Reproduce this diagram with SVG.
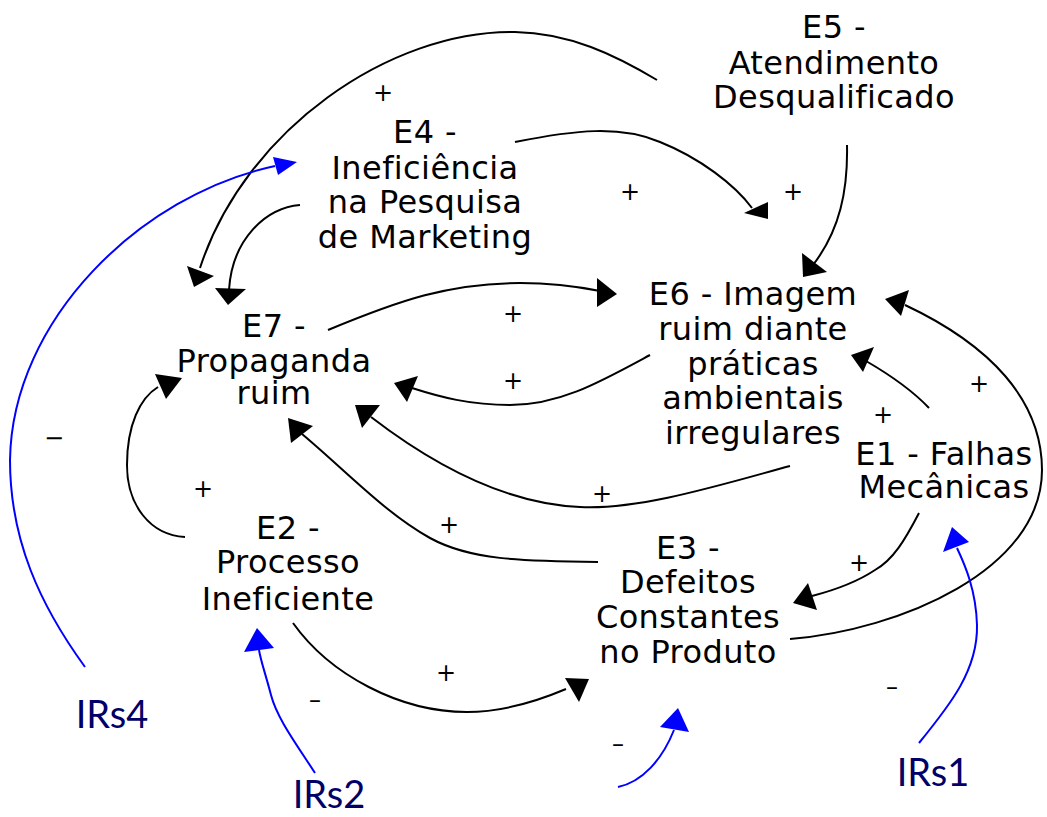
<svg xmlns="http://www.w3.org/2000/svg" width="1047" height="817" viewBox="0 0 1047 817">
<style>
.n{font-family:"DejaVu Sans","Liberation Sans",sans-serif;font-size:32px;letter-spacing:0.4px;fill:#000;text-anchor:middle}
.ir{font-family:Lato,"Liberation Sans",sans-serif;font-size:38px;fill:#000066;text-anchor:middle}
.s{font-family:"DejaVu Sans",sans-serif;font-size:24px;fill:#000;text-anchor:middle}
.k{fill:none;stroke:#000;stroke-width:2}
.b{fill:none;stroke:#0000ff;stroke-width:2}
.ah{fill:#000}
.bh{fill:#0000ff}
</style>
<rect width="1047" height="817" fill="#fff"/>
<g id="connectors">
<path class="k" d="M657,80 C615,55 570,33 515,32 C390,30 245,130 200,268"/>
<polygon class="ah" points="187,266 214,276 194,287"/>
<path class="k" d="M515,142 C575,130 620,125 660,142 C700,158 735,185 752,208"/>
<polygon class="ah" points="744,213 768,202 768,219"/>
<path class="k" d="M847,145 C848,190 840,230 813,265"/>
<polygon class="ah" points="802,253 827,272 803,277"/>
<path class="k" d="M300,205 C265,208 232,240 229,290"/>
<polygon class="ah" points="215,288 246,289 228,305"/>
<path class="k" d="M328,330 C400,300 450,283 520,283 C560,283 585,288 600,291"/>
<polygon class="ah" points="597,278 617,294 597,307"/>
<path class="k" d="M650,355 C600,382 560,405 510,405 C470,405 440,397 412,388"/>
<polygon class="ah" points="394,383 418,376 407,402"/>
<path class="k" d="M929,408 C910,388 885,372 866,361"/>
<polygon class="ah" points="851,355 874,347 863,372"/>
<path class="k" d="M790,639 C900,630 1042,570 1042,470 C1042,400 990,345 905,305"/>
<polygon class="ah" points="885,299 909,290 901,316"/>
<path class="k" d="M790,466 C720,485 640,510 580,507 C510,504 440,470 371,417"/>
<polygon class="ah" points="355,405 380,405 362,428"/>
<path class="k" d="M598,562 C520,561 470,560 430,538 C385,513 345,470 302,434"/>
<polygon class="ah" points="288,418 313,426 291,443"/>
<path class="k" d="M185,537 C150,535 127,505 127,465 C127,425 140,398 158,387"/>
<polygon class="ah" points="155,374 182,378 166,399"/>
<path class="k" d="M293,623 C330,675 400,712 467,712 C505,712 540,700 566,689"/>
<polygon class="ah" points="565,678 589,679 579,702"/>
<path class="k" d="M919,513 C905,540 893,560 875,570 C860,580 835,590 812,596"/>
<polygon class="ah" points="793,603 808,583 817,610"/>
<path class="b" d="M85,667 C40,605 10,540 10,460 C12,320 140,195 275,166"/>
<polygon class="bh" points="273,157 297,162 278,175"/>
<path class="b" d="M315,773 C295,742 277,718 271,695 C265,672 261,662 259,650"/>
<polygon class="bh" points="257,628 274,648 244,652"/>
<path class="b" d="M618,787 C642,782 662,760 674,730"/>
<polygon class="bh" points="678,708 689,732 660,727"/>
<path class="b" d="M919,743 C950,705 978,670 977,625 C976,590 965,565 957,548"/>
<polygon class="bh" points="952,527 969,542 943,552"/>
<text class="s" x="383" y="101">+</text>
<text class="s" x="630" y="200">+</text>
<text class="s" x="793" y="200">+</text>
<text class="s" x="513" y="322">+</text>
<text class="s" x="513" y="389">+</text>
<text class="s" x="883" y="423">+</text>
<text class="s" x="979" y="392">+</text>
<text class="s" x="602" y="502">+</text>
<text class="s" x="449" y="533">+</text>
<text class="s" x="203" y="497">+</text>
<text class="s" x="446" y="681">+</text>
<text class="s" x="859" y="571">+</text>
<text class="s" x="54" y="446">−</text>
<text class="s" x="315" y="708" font-size="20">–</text>
<text class="s" x="618" y="752" font-size="20">–</text>
<text class="s" x="892" y="695" font-size="20">–</text>
</g>
<g id="E5"><text class="n"><tspan x="834" y="38">E5 -</tspan><tspan x="834" y="74">Atendimento</tspan><tspan x="834" y="108">Desqualificado</tspan></text></g>
<g id="E4"><text class="n"><tspan x="425" y="143">E4 -</tspan><tspan x="425" y="179">Ineficiência</tspan><tspan x="425" y="213">na Pesquisa</tspan><tspan x="425" y="248">de Marketing</tspan></text></g>
<g id="E7"><text class="n"><tspan x="274" y="337">E7 -</tspan><tspan x="274" y="372">Propaganda</tspan><tspan x="274" y="404">ruim</tspan></text></g>
<g id="E6"><text class="n"><tspan x="753" y="305">E6 - Imagem</tspan><tspan x="753" y="340">ruim diante</tspan><tspan x="753" y="375">práticas</tspan><tspan x="753" y="409">ambientais</tspan><tspan x="753" y="444">irregulares</tspan></text></g>
<g id="E1"><text class="n"><tspan x="944" y="465">E1 - Falhas</tspan><tspan x="944" y="498">Mecânicas</tspan></text></g>
<g id="E3"><text class="n"><tspan x="688" y="559">E3 -</tspan><tspan x="688" y="593">Defeitos</tspan><tspan x="688" y="628">Constantes</tspan><tspan x="688" y="663">no Produto</tspan></text></g>
<g id="E2"><text class="n"><tspan x="288" y="539">E2 -</tspan><tspan x="288" y="573">Processo</tspan><tspan x="288" y="610">Ineficiente</tspan></text></g>
<g id="IRs4"><text class="ir" x="112" y="728">IRs4</text></g>
<g id="IRs2"><text class="ir" x="329" y="808">IRs2</text></g>
<g id="IRs1"><text class="ir" x="933" y="786">IRs1</text></g>
</svg>
